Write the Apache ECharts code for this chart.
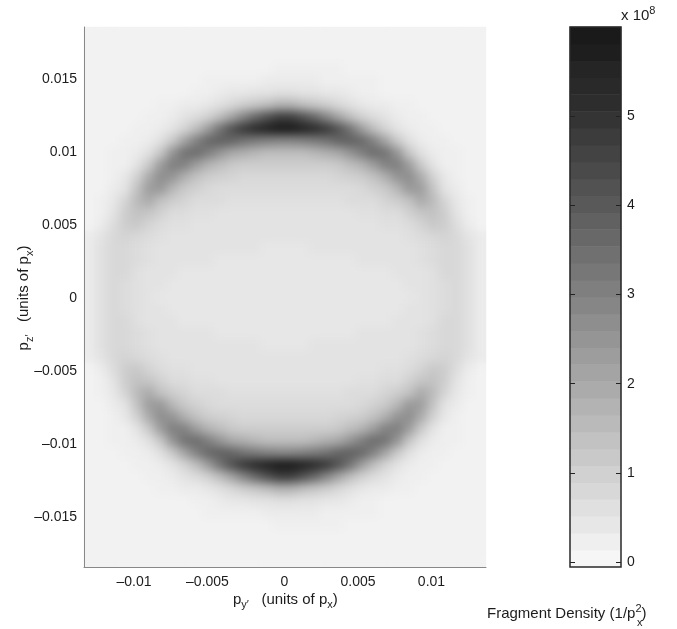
<!DOCTYPE html>
<html><head><meta charset="utf-8">
<style>html,body{margin:0;padding:0;background:#fff}#c{width:677px;height:629px}</style>
<script src="https://cdn.jsdelivr.net/npm/echarts@6/dist/echarts.min.js"></script>
</head><body><div id="c"></div>
<script>
// Fragment density, in units of 10^7, top row first
const density = [
[1,1,1,1,1,1,1,1,1,1,1,1,1,1,1,1,1,1,1,1,1,1,1,1,1,1,1,1,1,1,1,1,1,1],
[1,1,1,1,1,1,1,1,1,1,1,1,1,1,1,1,1,1,1,1,1,1,1,1,1,1,1,1,1,1,1,1,1,1],
[1,1,1,1,1,1,1,1,1,1,1,1,1,1,1,1,1,1,1,1,1,1,1,1,1,1,1,1,1,1,1,1,1,1],
[1,1,1,1,1,1,1,1,1,1,1,1,1,1,1,1,2,2,2,2,2,2,1,1,1,1,1,1,1,1,1,1,1,1],
[1,1,1,1,1,1,1,1,1,1,2,2,2,2,2,3,3,3,3,3,2,2,2,2,2,1,1,1,1,1,1,1,1,1],
[1,1,1,1,1,1,1,1,1,2,2,3,4,4,5,5,6,6,5,5,4,4,3,2,2,1,1,1,1,1,1,1,1,1],
[1,1,1,1,1,1,2,2,3,3,4,6,8,11,13,15,18,18,15,13,11,8,6,4,3,3,2,2,1,1,1,1,1,1],
[1,1,1,1,1,2,2,3,5,7,10,15,22,30,38,44,49,49,44,38,30,22,15,10,7,5,3,2,2,1,1,1,1,1],
[1,1,1,1,2,2,3,5,9,15,24,35,44,51,55,57,59,59,57,55,51,44,35,24,15,9,5,3,2,2,1,1,1,1],
[1,1,1,2,2,3,6,12,22,31,38,40,39,35,33,31,30,30,31,33,35,39,40,38,31,22,12,6,3,2,2,1,1,1],
[1,1,2,2,3,6,13,26,35,37,32,26,21,19,17,15,15,15,15,17,19,21,26,32,37,35,26,13,6,3,2,2,1,1],
[1,1,2,2,5,12,24,32,31,24,18,15,12,11,11,11,11,11,11,11,11,12,15,18,24,31,32,24,12,5,2,2,1,1],
[1,1,2,4,10,20,28,26,19,14,11,10,9,8,8,8,8,8,8,8,8,9,10,11,14,19,26,28,20,10,4,2,1,1],
[1,1,3,5,14,24,25,17,12,10,8,7,7,7,7,7,7,7,7,7,7,7,7,8,10,12,17,25,24,14,5,3,1,1],
[1,2,4,9,16,20,14,11,9,7,7,7,6,6,6,6,6,6,6,6,6,6,7,7,7,9,11,14,20,16,9,4,2,1],
[1,2,5,11,14,13,10,7,7,6,6,5,5,5,5,5,5,5,5,5,5,5,5,6,6,7,7,10,13,14,11,5,2,1],
[1,3,7,11,12,9,7,6,6,5,5,5,5,5,5,5,5,5,5,5,5,5,5,5,5,6,6,7,9,12,11,7,3,1],
[3,5,8,9,8,7,6,5,5,5,5,5,5,5,5,5,5,5,5,5,5,5,5,5,5,5,5,6,7,8,9,8,5,3],
[3,6,8,8,7,6,5,5,5,5,5,5,5,5,5,4,4,4,4,5,5,5,5,5,5,5,5,5,6,7,8,8,6,3],
[3,6,8,8,7,6,5,5,5,5,5,4,4,4,4,4,4,4,4,4,4,4,4,5,5,5,5,5,6,7,8,8,6,3],
[3,6,8,8,6,5,5,5,4,4,4,4,4,4,4,4,4,4,4,4,4,4,4,4,4,4,5,5,5,6,8,8,6,3],
[3,6,8,7,6,5,5,4,4,4,4,4,4,4,4,4,4,4,4,4,4,4,4,4,4,4,4,5,5,6,7,8,6,3],
[3,6,8,7,6,5,4,4,4,4,4,4,4,4,4,4,4,4,4,4,4,4,4,4,4,4,4,4,5,6,7,8,6,3],
[3,6,8,7,6,5,5,4,4,4,4,4,4,4,4,4,4,4,4,4,4,4,4,4,4,4,4,5,5,6,7,8,6,3],
[3,6,8,8,6,5,5,5,4,4,4,4,4,4,4,4,4,4,4,4,4,4,4,4,4,4,5,5,5,6,8,8,6,3],
[3,6,8,8,7,6,5,5,5,5,5,4,4,4,4,4,4,4,4,4,4,4,4,5,5,5,5,5,6,7,8,8,6,3],
[3,6,8,8,7,6,5,5,5,5,5,5,5,5,5,4,4,4,4,5,5,5,5,5,5,5,5,5,6,7,8,8,6,3],
[3,5,8,9,8,7,6,5,5,5,5,5,5,5,5,5,5,5,5,5,5,5,5,5,5,5,5,6,7,8,9,8,5,3],
[1,3,7,11,12,9,7,6,6,5,5,5,5,5,5,5,5,5,5,5,5,5,5,5,5,6,6,7,9,12,11,7,3,1],
[1,2,5,11,14,13,10,7,7,6,6,5,5,5,5,5,5,5,5,5,5,5,5,6,6,7,7,10,13,14,11,5,2,1],
[1,2,4,9,16,20,14,11,9,7,7,7,6,6,6,6,6,6,6,6,6,6,7,7,7,9,11,14,20,16,9,4,2,1],
[1,1,3,5,14,24,25,17,12,10,8,7,7,7,7,7,7,7,7,7,7,7,7,8,10,12,17,25,24,14,5,3,1,1],
[1,1,2,4,10,20,28,26,19,14,11,10,9,8,8,8,8,8,8,8,8,9,10,11,14,19,26,28,20,10,4,2,1,1],
[1,1,2,2,5,12,24,32,31,24,18,15,12,11,11,11,11,11,11,11,11,12,15,18,24,31,32,24,12,5,2,2,1,1],
[1,1,2,2,3,6,13,26,35,37,32,26,21,19,17,15,15,15,15,17,19,21,26,32,37,35,26,13,6,3,2,2,1,1],
[1,1,1,2,2,3,6,12,22,31,38,40,39,35,33,31,30,30,31,33,35,39,40,38,31,22,12,6,3,2,2,1,1,1],
[1,1,1,1,2,2,3,5,9,15,24,35,44,51,55,57,59,59,57,55,51,44,35,24,15,9,5,3,2,2,1,1,1,1],
[1,1,1,1,1,2,2,3,5,7,10,15,22,30,38,44,49,49,44,38,30,22,15,10,7,5,3,2,2,1,1,1,1,1],
[1,1,1,1,1,1,2,2,3,3,4,6,8,11,13,15,18,18,15,13,11,8,6,4,3,3,2,2,1,1,1,1,1,1],
[1,1,1,1,1,1,1,1,1,2,2,3,4,4,5,5,6,6,5,5,4,4,3,2,2,1,1,1,1,1,1,1,1,1],
[1,1,1,1,1,1,1,1,1,1,2,2,2,2,2,3,3,3,3,3,2,2,2,2,2,1,1,1,1,1,1,1,1,1],
[1,1,1,1,1,1,1,1,1,1,1,1,1,1,1,1,2,2,2,2,2,2,1,1,1,1,1,1,1,1,1,1,1,1],
[1,1,1,1,1,1,1,1,1,1,1,1,1,1,1,1,1,1,1,1,1,1,1,1,1,1,1,1,1,1,1,1,1,1],
[1,1,1,1,1,1,1,1,1,1,1,1,1,1,1,1,1,1,1,1,1,1,1,1,1,1,1,1,1,1,1,1,1,1],
[1,1,1,1,1,1,1,1,1,1,1,1,1,1,1,1,1,1,1,1,1,1,1,1,1,1,1,1,1,1,1,1,1,1]
];
// Colour bar bands, bottom first, in units of 10^7
const barLevels = [0,2,4,6,8,10,12,14,16,18,20,22,24,26,28,30,32,34,36,38,40,42,44,46,48,50,52,54,55,56,58,59];
const xTicks = [-0.01,-0.005,0,0.005,0.01];
const yTicks = [-0.015,-0.01,-0.005,0,0.005,0.01,0.015];
const barTicks = [0,1,2,3,4,5];

const FONT = '"Liberation Sans", Arial, sans-serif';
const INK = '#1c1c1c';
const fmt = v => String(v).replace('-', '\u2013');
const fmtX = v => v < 0 ? fmt(v) + '\u2002' : fmt(v);
const heatData = [];
density.forEach((row, j) => row.forEach((v, i) => heatData.push([i, j, v])));
const barData = barLevels.map((v, j) => [0, j, v]);
const baseRich = {
  b: {fontFamily: FONT, fontSize: 15, fill: INK, lineHeight: 22},
  s: {fontFamily: FONT, fontSize: 11, fill: INK, lineHeight: 22, verticalAlign: 'bottom'},
  u: {fontFamily: FONT, fontSize: 11, fill: INK, lineHeight: 22, verticalAlign: 'top'}
};
const hiddenCat = (n, extra) => Object.assign({type: 'category', show: false,
  data: Array.from({length: n}, (_, k) => k)}, extra);

const chart = echarts.init(document.getElementById('c'), null, {renderer: 'canvas'});

// Soften the heat cells into the continuous image of the reference
let softened = false;
function soften() {
  if (softened) return;
  softened = true;
  const cv = chart.getDom().querySelector('canvas');
  const ctx = cv.getContext('2d');
  const x = 85, y = 27, w = 401, h = 539;
  const tmp = document.createElement('canvas');
  tmp.width = w; tmp.height = h;
  tmp.getContext('2d').drawImage(cv, x, y, w, h, 0, 0, w, h);
  ctx.save();
  ctx.setTransform(1, 0, 0, 1, 0, 0);
  ctx.beginPath(); ctx.rect(x, y, w, h); ctx.clip();
  ctx.filter = 'blur(5px)';
  ctx.drawImage(tmp, x, y);
  ctx.restore();
}
chart.on('finished', soften);

chart.setOption({
  animation: false,
  backgroundColor: '#fff',
  grid: [
    {left: 84, top: 27, width: 402, height: 540, containLabel: false},
    {left: 570, top: 27, width: 51, height: 540, show: true, borderColor: '#2a2a2a', borderWidth: 1.5, backgroundColor: 'transparent'}
  ],
  xAxis: [
    hiddenCat(34, {gridIndex: 0}),
    {type: 'value', gridIndex: 0, position: 'bottom', min: -0.01364, max: 0.01371,
     axisLine: {show: true, onZero: false, lineStyle: {color: '#888', width: 1}}, axisTick: {show: false},
     splitLine: {show: false},
     axisLabel: {customValues: xTicks, formatter: fmtX, fontFamily: FONT, fontSize: 14, color: INK, margin: 8, hideOverlap: false}},
    hiddenCat(1, {gridIndex: 1})
  ],
  yAxis: [
    hiddenCat(45, {gridIndex: 0, inverse: true}),
    {type: 'value', gridIndex: 0, position: 'left', min: -0.018425, max: 0.018562,
     axisLine: {show: true, onZero: false, lineStyle: {color: '#888', width: 1}}, axisTick: {show: false},
     splitLine: {show: false},
     axisLabel: {customValues: yTicks, formatter: fmt, fontFamily: FONT, fontSize: 14, color: INK, margin: 7, hideOverlap: false}},
    hiddenCat(32, {gridIndex: 1}),
    {type: 'value', gridIndex: 1, position: 'right', min: -0.056, max: 6,
     axisLine: {show: false}, splitLine: {show: false},
     axisTick: {show: true, inside: true, length: 5, customValues: barTicks, lineStyle: {color: '#222'}},
     axisLabel: {customValues: barTicks, fontFamily: FONT, fontSize: 14, color: INK, margin: 6, hideOverlap: false}},
    {type: 'value', gridIndex: 1, position: 'left', min: -0.056, max: 6,
     axisLine: {show: false}, splitLine: {show: false},
     axisTick: {show: true, inside: true, length: 5, customValues: barTicks, lineStyle: {color: '#222'}},
     axisLabel: {show: false}}
  ],
  visualMap: {show: false, type: 'continuous', min: 0, max: 59, dimension: 2,
    seriesIndex: [0, 1], inRange: {color: ['#f6f6f6', '#1a1a1a']}},
  series: [
    {type: 'heatmap', xAxisIndex: 0, yAxisIndex: 0, data: heatData, progressive: 0,
     itemStyle: {borderWidth: 0}, silent: true, z: -1},
    {type: 'heatmap', xAxisIndex: 2, yAxisIndex: 2, data: barData, progressive: 0,
     itemStyle: {borderWidth: 0}, silent: true, z: -1}
  ],
  graphic: [
    {type: 'text', left: 233, top: 592, silent: true, style: {
      text: '{b|p}{s|y\u2032}{b|   (units of p}{s|x}{b|)}', rich: baseRich}},
    {type: 'text', x: 24, y: 298, rotation: Math.PI / 2, silent: true, style: {
      text: '{b|p}{s|z\u2032}{b|   (units of p}{s|x}{b|)}', rich: baseRich, align: 'center', verticalAlign: 'middle'}},
    {type: 'text', left: 487, top: 603, silent: true, style: {
      text: '{b|Fragment Density (1/p}{u|2}{b|)}', rich: baseRich}},
    {type: 'text', left: 637, top: 617, silent: true, style: {
      text: 'x', fontFamily: FONT, fontSize: 11, fill: INK}},
    {type: 'text', left: 621, top: 5, silent: true, style: {
      text: '{b|x 10}{u|8}', rich: baseRich}}
  ]
});
soften();
</script></body></html>
